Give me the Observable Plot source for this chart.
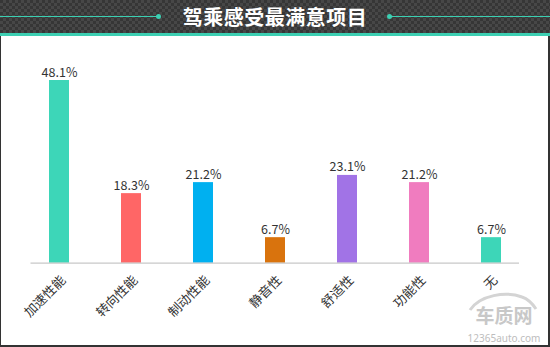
<!DOCTYPE html>
<html><head><meta charset="utf-8">
<script src="https://cdn.jsdelivr.net/npm/d3@7"></script>
<script src="https://cdn.jsdelivr.net/npm/@observablehq/plot@0.6"></script>
<style>
html,body{margin:0;padding:0;}
body{width:550px;height:347px;position:relative;overflow:hidden;background:#fff;font-family:"Noto Sans CJK SC","Noto Sans",sans-serif;}
#header{position:absolute;left:0;top:0;width:550px;height:33px;background-color:#3a3a3a;
 background-image:repeating-conic-gradient(#474747 0 25%,#363636 0 50%);background-size:6px 6px;}
#stripe{position:absolute;left:0;top:33px;width:550px;height:3px;background:#3ccfb2;}
.hl{position:absolute;top:15.5px;height:1.5px;background:#3ccfb2;}
.dot{position:absolute;top:13.5px;width:5px;height:5px;border-radius:50%;background:#3ccfb2;}
#title{position:absolute;left:0;top:0;width:550px;height:33px;line-height:33px;text-align:center;color:#fff;font-weight:bold;font-size:20px;letter-spacing:0.5px;}
#frame{position:absolute;left:0;top:36px;width:547px;height:309px;border-left:1px solid #333;border-right:2px solid #333;border-bottom:2px solid #333;box-sizing:content-box;}
#chart{position:absolute;left:0;top:36px;}
#wm{position:absolute;left:462px;top:291px;width:80px;height:54px;}
</style></head>
<body>
<div id="header"></div>
<div class="hl" style="left:0;width:158px"></div><div class="dot" style="left:156px"></div>
<div class="hl" style="left:389px;width:161px"></div><div class="dot" style="left:387px"></div>
<div id="title">驾乘感受最满意项目</div>
<div id="stripe"></div>
<div id="frame"></div>
<div id="chart"></div>
<svg id="wm" viewBox="0 0 80 54">
 <path d="M8 19 C18 4,44 0,60 6 C66 8,70 12,74 18" fill="none" stroke="#d4d4d4" stroke-width="3"/>
 <text x="42" y="32" text-anchor="middle" font-size="19" font-weight="bold" fill="#c8c8c8" font-family="Noto Sans CJK SC">车质网</text>
 <text x="42" y="51" text-anchor="middle" font-size="10" fill="#bdbdbd" font-family="Noto Sans">12365auto.com</text>
</svg>
<script>
const categories = ["加速性能","转向性能","制动性能","静音性","舒适性","功能性","无"];
const values = [48.1, 18.3, 21.2, 6.7, 23.1, 21.2, 6.7];
const labels = ["48.1%","18.3%","21.2%","6.7%","23.1%","21.2%","6.7%"];
const colors = ["#3dd6b8","#ff6666","#00b0f0","#d9730d","#a173e6","#f07cbf","#3dd6b8"];

const data = categories.map((c,i)=>({cat:c, v:values[i], label:labels[i], color:colors[i]}));

const chart = Plot.plot({
  width: 550,
  height: 311,
  marginLeft: 30.5,
  marginRight: 31,
  marginTop: 36.8,
  marginBottom: 84.4,
  style: {fontFamily: '"Noto Sans CJK SC","Noto Sans",sans-serif', fontSize: "12px", color: "#333", background: "transparent"},
  x: {domain: categories, paddingInner: 0.724, paddingOuter: 0.235},
  y: {domain: [0, 50], axis: null},
  marks: [
    Plot.barY(data, {x: "cat", y: "v", fill: "color"}),
    Plot.ruleY([0], {stroke: "#bbb", strokeWidth: 1}),
    Plot.text(data, {x: "cat", y: "v", text: "label", lineAnchor: "bottom", dy: -4, fontSize: 12.5, fill: "#333"}),
    Plot.axisX({tickSize: 0, tickRotate: -45, tickPadding: 8, dx: 4, dy: 7, fontSize: 13, label: null, fill: "#333"})
  ]
});
document.getElementById("chart").appendChild(chart);
</script>
</body></html>
